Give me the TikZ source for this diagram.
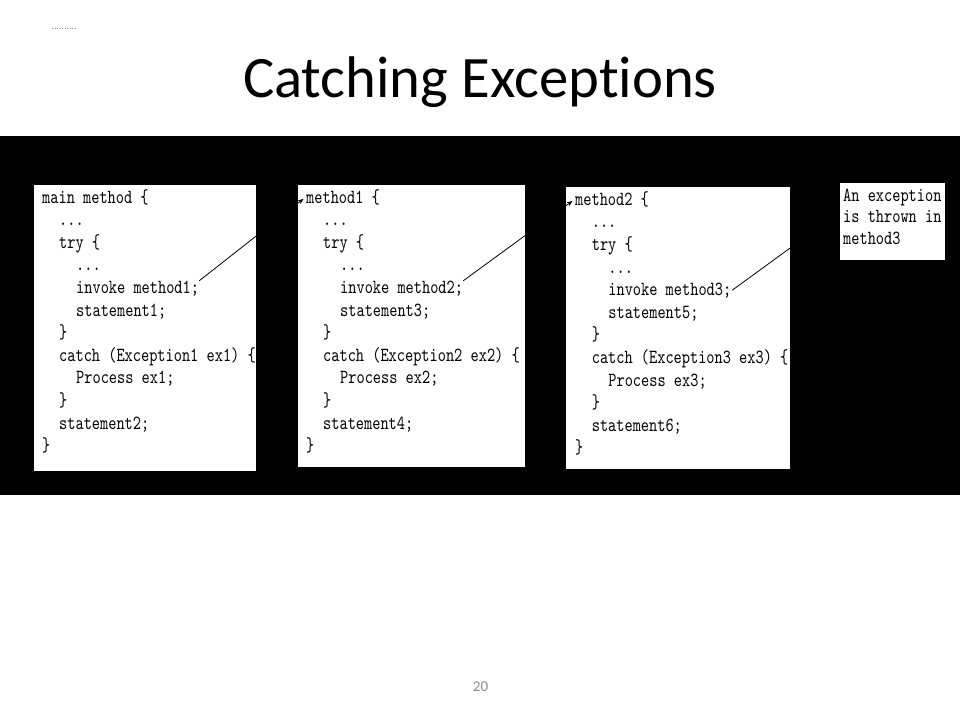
\documentclass[tikz,border=0pt]{standalone}
\usepackage{fontspec}
\setmainfont{Carlito}[Ligatures=NoCommon]
\newfontfamily\codefont{lmmono10-regular.otf}[FakeStretch=0.78]
\usetikzlibrary{arrows.meta}
\definecolor{pagegray}{RGB}{137,137,137}
\newcommand\codedots{...}

\tikzset{
  panel/.style={fill=white, draw=none, inner sep=0pt, anchor=north west},
  codeline/.style={font=\codefont\fontsize{20}{22.6}\selectfont, inner sep=0pt,
                   anchor=base west, text=black},
  call/.style={line width=0.8pt, -{Stealth[length=6pt,width=4.5pt]}, shorten >=3pt},
  pointer/.style={line width=0.8pt, shorten <=1pt},
}

\begin{document}
\begin{tikzpicture}[x=1pt, y=-1pt]
  \useasboundingbox (0,0) rectangle (960,720);

  % tiny dotted mark in the corner
  \draw[pagegray, line width=0.8pt, dash pattern=on 0.8pt off 1.7pt] (52,28) -- (77,28);

  % title and page number
  \node[font=\fontsize{58.7}{70}\selectfont, anchor=base, inner sep=0pt] (title)
    at (480,97) {Catching Exceptions};
  \node[font=\fontsize{15}{18}\selectfont, text=pagegray, anchor=base, inner sep=0pt]
    (pagenum) at (480.5,691) {20};

  % dark band behind the panels
  \fill[black] (0,136) rectangle (960,495);

  % white panels
  \node[panel, minimum width=222pt, minimum height=286pt] (box1) at (34,185) {};
  \node[panel, minimum width=227pt, minimum height=282pt] (box2) at (298,185) {};
  \node[panel, minimum width=224pt, minimum height=282pt] (box3) at (566,187) {};
  \node[panel, minimum width=105pt, minimum height=77pt]  (note) at (840,183) {};

  % main method
  \foreach \lvl/\txt [count=\i] in {
      0/main method \{,
      1/\codedots,
      1/try \{,
      2/\codedots,
      2/invoke method1;,
      2/statement1;,
      1/\},
      1/catch (Exception1 ex1) \{,
      2/Process ex1;,
      1/\},
      1/statement2;,
      0/\}}
    \node[codeline] (c1-\i) at ({42+17*\lvl}, {203+22.6*(\i-1)}) {\txt};

  % method1
  \foreach \lvl/\txt [count=\i] in {
      0/method1 \{,
      1/\codedots,
      1/try \{,
      2/\codedots,
      2/invoke method2;,
      2/statement3;,
      1/\},
      1/catch (Exception2 ex2) \{,
      2/Process ex2;,
      1/\},
      1/statement4;,
      0/\}}
    \node[codeline] (c2-\i) at ({306+17*\lvl}, {203+22.6*(\i-1)}) {\txt};

  % method2
  \foreach \lvl/\txt [count=\i] in {
      0/method2 \{,
      1/\codedots,
      1/try \{,
      2/\codedots,
      2/invoke method3;,
      2/statement5;,
      1/\},
      1/catch (Exception3 ex3) \{,
      2/Process ex3;,
      1/\},
      1/statement6;,
      0/\}}
    \node[codeline] (c3-\i) at ({575+16.6*\lvl}, {205.2+22.6*(\i-1)}) {\txt};

  % note
  \foreach \txt [count=\i] in {An exception, is thrown in, method3}
    \node[codeline] (n-\i) at (843, {201+21.5*(\i-1)}) {\txt};

  % call chain
  \draw[call] (c1-5.north east) -- (c2-1.west);
  \draw[call] (c2-5.north east) -- (c3-1.west);
  \draw[pointer] (c3-5.east) -- ([yshift=10pt]note.west);
\end{tikzpicture}
\end{document}
